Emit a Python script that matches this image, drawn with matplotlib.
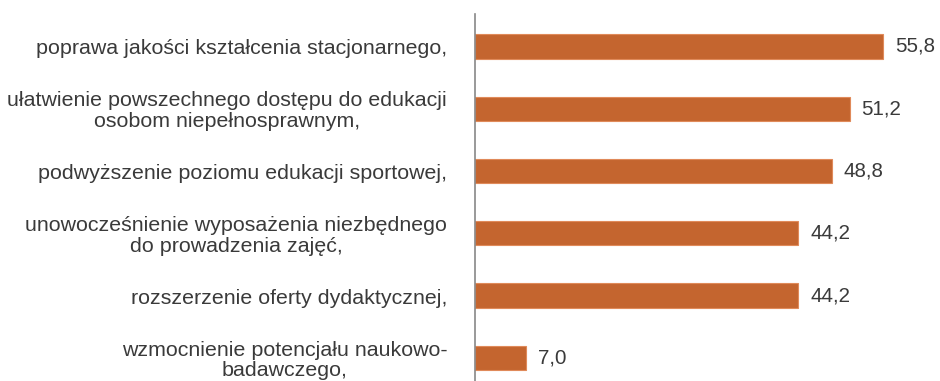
import matplotlib.pyplot as plt

# Odsetki wskazań poszczególnych celów
kategorie = [
    "poprawa jakości kształcenia stacjonarnego,",
    "ułatwienie powszechnego dostępu do edukacji\nosobom niepełnosprawnym,",
    "podwyższenie poziomu edukacji sportowej,",
    "unowocześnienie wyposażenia niezbędnego\ndo prowadzenia zajęć,",
    "rozszerzenie oferty dydaktycznej,",
    "wzmocnienie potencjału naukowo-\nbadawczego,",
]
wartosci = [55.8, 51.2, 48.8, 44.2, 44.2, 7.0]
etykiety = ["55,8", "51,2", "48,8", "44,2", "44,2", "7,0"]

plt.rcParams['font.family'] = ['Liberation Sans', 'DejaVu Sans']

fig = plt.figure(figsize=(9.4, 3.81), dpi=100)
ax = fig.add_axes([475 / 940, 0, (914 - 475) / 940, 367 / 381])

y = list(range(len(kategorie)))
ax.barh(y, wartosci, height=0.39, color='#C4652F', edgecolor='#E08A5A', linewidth=0.8)

ax.set_xlim(0, 60)
ax.set_ylim(5.37, -0.52)

for yi, v, t in zip(y, wartosci, etykiety):
    ax.text(v + 1.6, yi, t, va='center', ha='left', fontsize=14.8, color='#3a3a3a')

for yi, k in zip(y, kategorie):
    ax.text(-3.8, yi + 0.04, k, va='center', ha='right', multialignment='center',
            fontsize=15.4, color='#3a3a3a', linespacing=1.1)

for s in ['top', 'right', 'bottom']:
    ax.spines[s].set_visible(False)
ax.spines['left'].set_color('#888888')
ax.spines['left'].set_linewidth(1.2)
ax.set_xticks([])
ax.set_yticks([])

fig.savefig('out.png', dpi=100)
